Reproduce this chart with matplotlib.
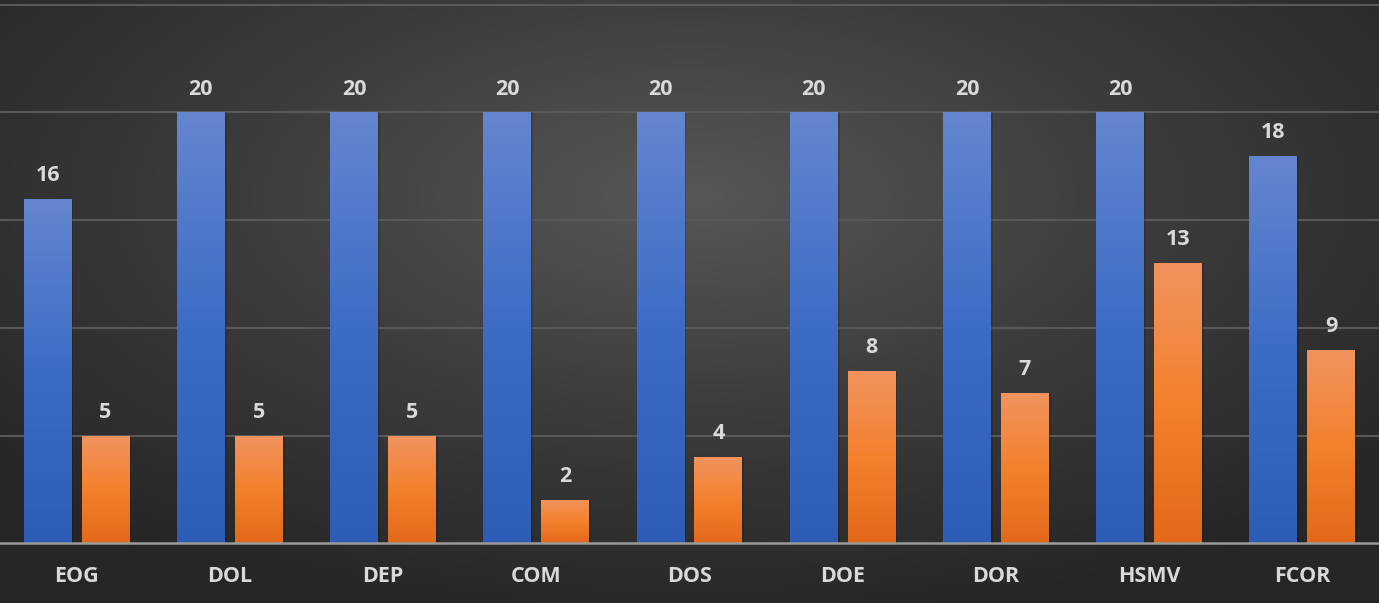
import numpy as np
import matplotlib.pyplot as plt
from matplotlib.colors import LinearSegmentedColormap

categories = ["EOG", "DOL", "DEP", "COM", "DOS", "DOE", "DOR", "HSMV", "FCOR"]
blue_vals = [16, 20, 20, 20, 20, 20, 20, 20, 18]
orange_vals = [5, 5, 5, 2, 4, 8, 7, 13, 9]

plt.rcParams['font.family'] = ['Open Sans', 'DejaVu Sans']

fig = plt.figure(figsize=(13.79, 6.03), dpi=100)

# radial background, lighter toward the upper middle
bg = fig.add_axes([0, 0, 1, 1])
yy, xx = np.mgrid[-1:1:300j, -1:1:600j]
r = np.sqrt((xx / 1.1) ** 2 + ((yy - 0.35) / 1.2) ** 2)
bg_cmap = LinearSegmentedColormap.from_list("bg", ["#575757", "#3c3c3c", "#262626"])
bg.imshow(r, cmap=bg_cmap, vmin=0, vmax=1.2, aspect="auto", origin="lower", extent=[0, 1, 0, 1])
bg.axis("off")

ax = fig.add_axes([0, 0.0987, 1, 0.9013])
ax.patch.set_alpha(0)
ax.set_xlim(-0.5, 8.5)
ax.set_ylim(0, 25.22)

blue_cmap = LinearSegmentedColormap.from_list("b", ["#2E5DB7", "#3d6cc6", "#6586CF"])
orange_cmap = LinearSegmentedColormap.from_list("o", ["#E3691A", "#F3812D", "#F1935F"])

w = 0.313
off = 0.189
x = np.arange(len(categories))

def grad_bars(xs, vals, cmap):
    bars = ax.bar(xs, vals, width=w, color="none", zorder=3)
    for b in bars:
        x0, h = b.get_x(), b.get_height()
        # soft shadow
        ax.bar(x0 + w / 2 + 0.012, h, width=w, bottom=0, color="black", alpha=0.15, zorder=2)
        grad = np.linspace(0, 1, 256).reshape(-1, 1)
        im = ax.imshow(grad, cmap=cmap, aspect="auto", origin="lower",
                       extent=[x0, x0 + w, 0, h], zorder=3)
        im.set_clip_path(b)
    return bars

grad_bars(x - off, blue_vals, blue_cmap)
grad_bars(x + off, orange_vals, orange_cmap)

for i in range(len(categories)):
    ax.text(x[i] - off, blue_vals[i] + 0.6, str(blue_vals[i]), ha="center", va="bottom",
            color="#d9d9d9", fontsize=15.5, fontweight="bold", zorder=4)
    ax.text(x[i] + off, orange_vals[i] + 0.6, str(orange_vals[i]), ha="center", va="bottom",
            color="#d9d9d9", fontsize=15.5, fontweight="bold", zorder=4)

ax.set_yticks([5, 10, 15, 20, 25])
ax.yaxis.grid(True, color="#595959", linewidth=1.5, zorder=1)
ax.set_axisbelow(True)
ax.tick_params(axis="y", left=False, labelleft=False)
ax.set_xticks(x)
ax.set_xticklabels(categories, color="#d9d9d9", fontsize=15.5, fontweight="bold")
ax.tick_params(axis="x", length=0, pad=16)
for s in ["top", "left", "right"]:
    ax.spines[s].set_visible(False)
ax.spines["bottom"].set_color("#9a9a9a")
ax.spines["bottom"].set_linewidth(1.8)
ax.spines["bottom"].set_zorder(5)

fig.savefig("out.png", dpi=100)
